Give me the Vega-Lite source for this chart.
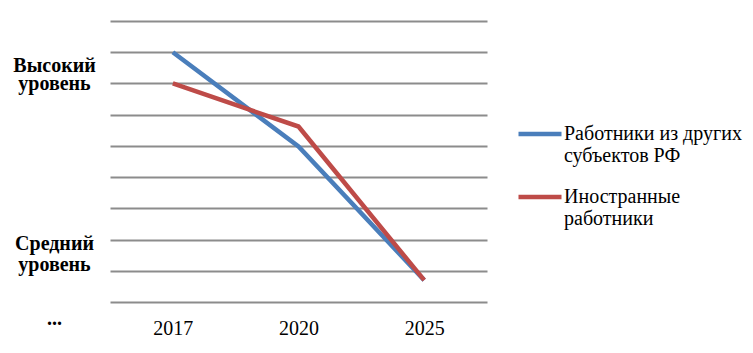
{
  "$schema": "https://vega.github.io/schema/vega-lite/v6.json",
  "width": 377,
  "height": 281,
  "autosize": "none",
  "padding": {"left": 110, "top": 21, "right": 266, "bottom": 51},
  "background": "white",
  "config": {"view": {"stroke": null}, "font": "Liberation Serif, Times New Roman, serif"},
  "data": {"values": [
    {"year": "2017", "series": "Работники из других субъектов РФ", "v": 8},
    {"year": "2020", "series": "Работники из других субъектов РФ", "v": 4.98},
    {"year": "2025", "series": "Работники из других субъектов РФ", "v": 0.7},
    {"year": "2017", "series": "Иностранные работники", "v": 7},
    {"year": "2020", "series": "Иностранные работники", "v": 5.62},
    {"year": "2025", "series": "Иностранные работники", "v": 0.7}
  ]},
  "mark": {"type": "line", "strokeWidth": 4.5, "strokeCap": "butt", "strokeJoin": "miter"},
  "encoding": {
    "x": {"field": "year", "type": "ordinal", "scale": {"type": "point", "padding": 0.5},
      "axis": {"title": null, "domain": false, "ticks": false, "tickSize": 0, "grid": false, "labelAngle": 0,
        "labelFont": "Liberation Serif", "labelFontSize": 20, "labelColor": "#000", "labelPadding": 16, "labelBaseline": "top"}},
    "y": {"field": "v", "type": "quantitative", "scale": {"domain": [0, 9], "nice": false, "zero": false},
      "axis": {"title": null, "domain": false, "ticks": false, "tickSize": 0, "grid": true, "gridColor": "#8c8c8c", "gridWidth": 2,
        "values": [0,1,2,3,4,5,6,7,8,9],
        "labelExpr": "datum.value == 8 ? 'Высокий' : datum.value == 7 ? 'уровень' : datum.value == 2 ? 'Средний' : datum.value == 1 ? 'уровень' : datum.value == 0 ? '...' : ''",
        "labelFont": "Liberation Serif, Times New Roman, serif", "labelFontSize": 20, "labelFontWeight": "bold", "labelColor": "#000",
        "labelAlign": "center", "labelBaseline": "middle", "labelPadding": 56,
        "labelOffset": {"condition": [{"test": "datum.value == 8", "value": 13}, {"test": "datum.value == 2", "value": 4}, {"test": "datum.value == 1", "value": -6}, {"test": "datum.value == 0", "value": 16}], "value": 0},
        "labelOverlap": false, "labelBound": false, "labelFlush": false}},
    "color": {"field": "series", "type": "nominal",
      "scale": {"domain": ["Работники из других субъектов РФ", "Иностранные работники"], "range": ["#4a7ebb", "#be4b48"]},
      "legend": {"title": null, "orient": "none", "legendX": 406, "legendY": 89,
        "symbolType": "stroke", "symbolSize": 1849, "symbolStrokeWidth": 4.5,
        "labelFont": "Liberation Serif, Times New Roman, serif", "labelFontSize": 20, "labelColor": "#000", "labelLineHeight": 25, "labelOffset": 0, "labelLimit": 300,
        "rowPadding": 7,
        "labelExpr": "datum.label == 'Иностранные работники' ? ['Иностранные','работники'] : ['Работники из других','субъектов РФ']"}}
  }
}
